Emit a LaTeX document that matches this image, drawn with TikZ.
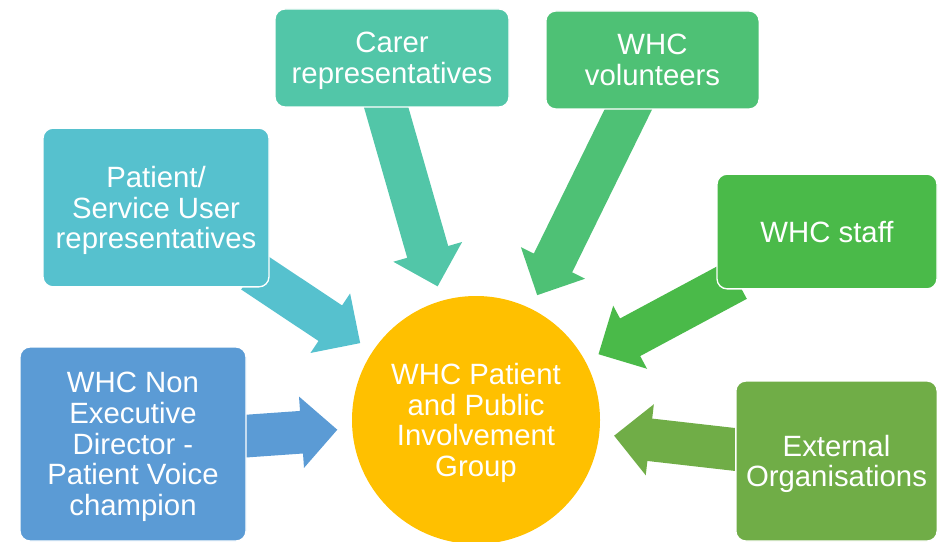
\documentclass[tikz,border=0pt]{standalone}
\usepackage{fontspec}
\setmainfont{Liberation Sans}
\usetikzlibrary{arrows.meta, backgrounds}

\definecolor{hubyellow}{RGB}{255,192,0}
\definecolor{nedblue}{RGB}{91,155,213}
\definecolor{patientteal}{RGB}{86,193,206}
\definecolor{carerteal}{RGB}{82,198,168}
\definecolor{volgreen}{RGB}{78,193,117}
\definecolor{staffgreen}{RGB}{74,186,73}
\definecolor{extgreen}{RGB}{112,173,71}

\begin{document}
\begin{tikzpicture}[
    x=0.75pt, y=-0.75pt,
    label text/.style={text=white, align=center, inner sep=0pt, text depth=0pt,
        font=\fontsize{22}{23}\selectfont},
    group/.style={label text, rounded corners=7.5pt, draw=white, line width=1pt},
    hub/.style={label text, circle, fill=hubyellow, minimum size=186pt},
    feed/.style={line width=32pt, -{Triangle[length=27pt 0 0, width=52pt 0 0]},
        shorten >=11pt, shorten <=-15pt}
]
    \clip (0,0) rectangle (946,542);

    \node[hub] (ppig) at (476,420) {WHC Patient\\and Public\\Involvement\\Group};

    \node[group, fill=nedblue, minimum width=169.5pt, minimum height=145.5pt] (ned) at (133,444)
        {WHC Non\\Executive\\Director -\\Patient Voice\\champion};
    \node[group, fill=patientteal, minimum width=169.5pt, minimum height=119pt] (patient) at (156,207.5)
        {Patient/\\Service User\\representatives};
    \node[group, fill=carerteal, minimum width=175.5pt, minimum height=73.5pt] (carer) at (392,58)
        {Carer\\representatives};
    \node[group, fill=volgreen, minimum width=160pt, minimum height=73.5pt] (volunteers) at (652.5,60)
        {WHC\\volunteers};
    \node[group, fill=staffgreen, minimum width=165pt, minimum height=86pt] (staff) at (827,231.5)
        {WHC staff};
    \node[group, fill=extgreen, minimum width=151pt, minimum height=120pt] (external) at (836.5,461)
        {External\\Organisations};

    \begin{scope}[on background layer]
        \draw[feed, nedblue] (ned) -- (ppig);
        \draw[feed, patientteal] (patient) -- (ppig);
        \draw[feed, carerteal] ([xshift=-15pt]carer.center) -- (ppig);
        \draw[feed, volgreen] (volunteers) -- (ppig);
        \draw[feed, staffgreen] (staff) -- (ppig);
        \draw[feed, extgreen] (external) -- (ppig);
    \end{scope}

\end{tikzpicture}
\end{document}
